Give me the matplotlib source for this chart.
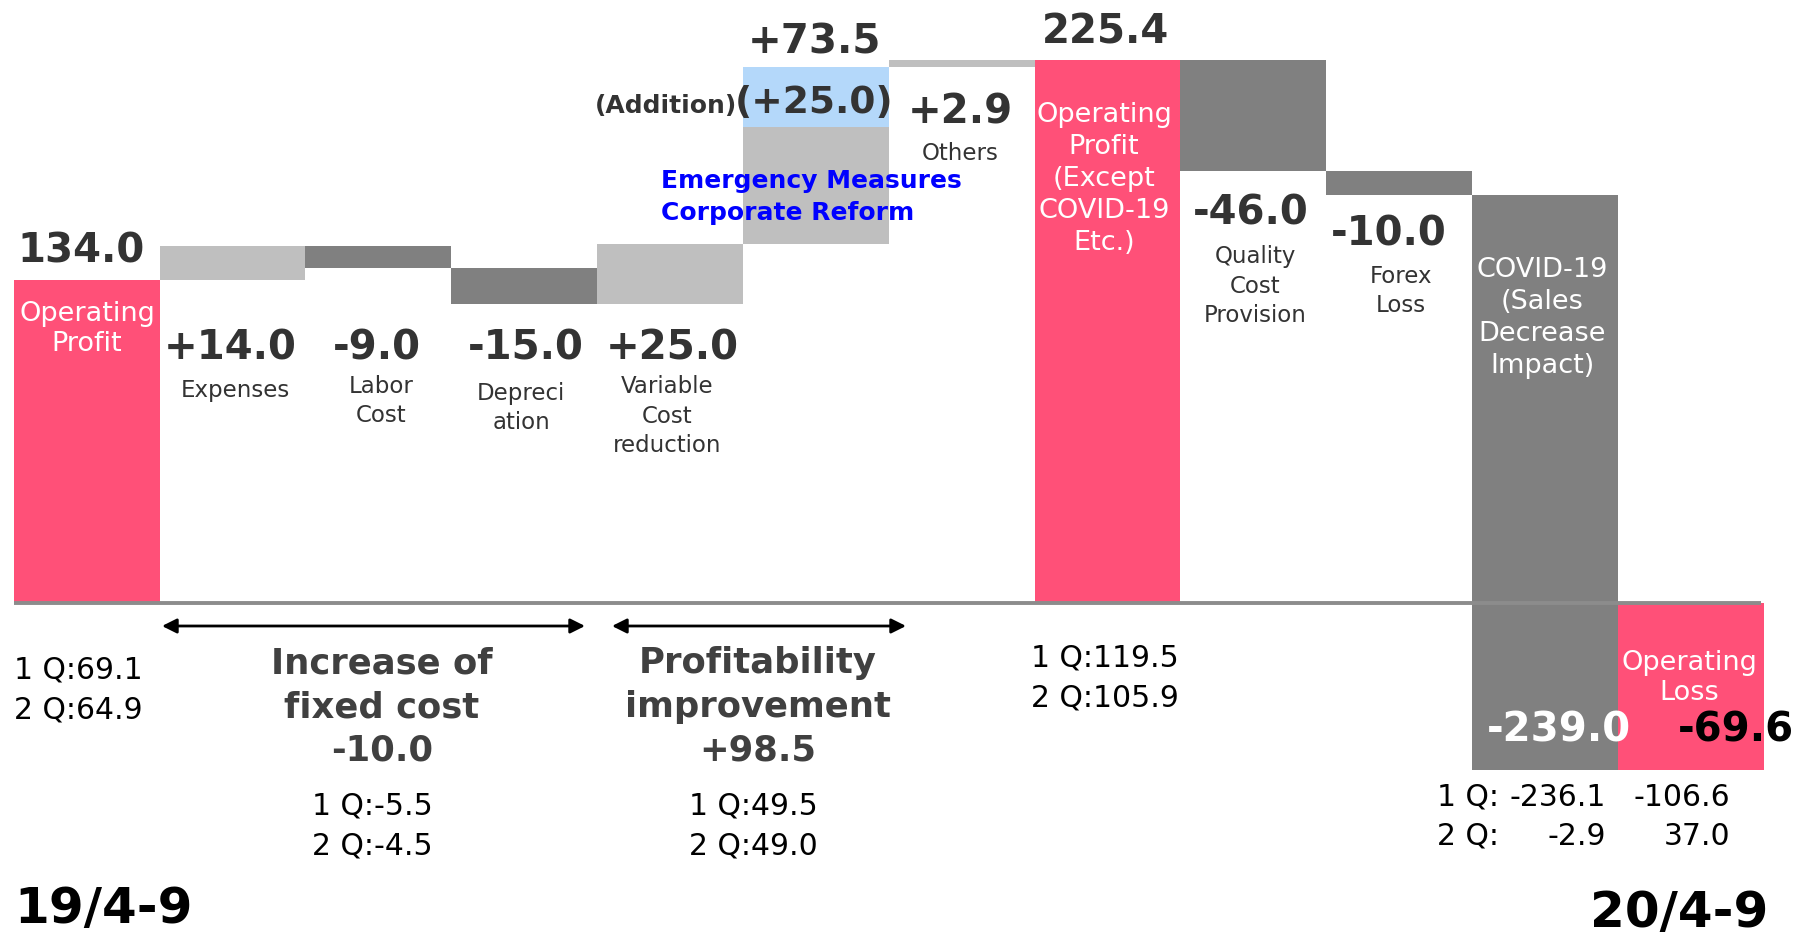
import matplotlib as mpl
import matplotlib.pyplot as plt
import numpy as np

mpl.rcParams['font.family'] = ['DejaVu Sans']

# ---------------- data ----------------
start_value = 134.0
fixed_changes = [14.0, -9.0, -15.0]          # expenses, labor, depreciation
improve_changes = [25.0, 73.5, 2.9]          # variable cost, emergency measures, others
addition = 25.0                              # blue part of the emergency bar
mid_value = 225.4
covid_changes = [-46.0, -10.0, -239.0]       # quality cost, forex, covid
end_value = -69.6

q_start = ['1 Q:69.1', '2 Q:64.9']
q_fixed = ['1 Q:-5.5', '2 Q:-4.5']
q_improve = ['1 Q:49.5', '2 Q:49.0']
q_mid = ['1 Q:119.5', '2 Q:105.9']
q_covid = ['-236.1', '-2.9']
q_end = ['-106.6', '37.0']

PINK = '#ff5078'
LGRAY = '#bfbfbf'
DGRAY = '#808080'
BLUE = '#b4d8fa'
TXT = '#333333'

# ---------------- figure ----------------
fig = plt.figure(figsize=(18, 9.35), dpi=100)
ax = fig.add_axes([0, 0, 1, 1])
ax.set_xlim(-0.095, 12.25)
ax.set_ylim(-137.9, 250.2)
ax.axis('off')

def P(xp, yp):
    # full-size pixel position -> data coords (for free text only)
    x0, x1 = ax.get_xlim()
    y0, y1 = ax.get_ylim()
    return x0 + xp / 1800 * (x1 - x0), y1 - yp / 935 * (y1 - y0)

# build the waterfall
steps = fixed_changes + improve_changes
values, bottoms, colors = [start_value], [0], [PINK]
run = start_value
for v in steps:
    bottoms.append(run if v > 0 else run + v)
    values.append(abs(v))
    colors.append(LGRAY if v > 0 else DGRAY)
    run += v
values.append(mid_value); bottoms.append(0); colors.append(PINK)
run = mid_value
for v in covid_changes:
    bottoms.append(run + v)
    values.append(abs(v))
    colors.append(DGRAY)
    run += v
values.append(end_value); bottoms.append(0); colors.append(PINK)

xs = np.arange(len(values))
ax.bar(xs, values, bottom=bottoms, width=1.0, align='edge', color=colors, linewidth=0)
# blue "addition" part of the emergency bar
em = 5
ax.bar(em, addition, bottom=bottoms[em] + values[em] - addition, width=1.0,
       align='edge', color=BLUE, linewidth=0)

# baseline
ax.plot([0, len(values) - 0.02], [0, 0], color='#8c8c8c', lw=2.8, solid_capstyle='butt')

# ---------------- labels ----------------
BIG = 29
LAB = 16.5
INN = 19.5
LS = 1.38

def t(xp, yp, s, **kw):
    x, y = P(xp, yp)
    kw.setdefault('ha', 'center')
    kw.setdefault('va', 'center')
    ax.text(x, y, s, **kw)

t(81, 251, f'{start_value:.1f}', fontsize=BIG, fontweight='bold', color=TXT)
t(87, 329, 'Operating\nProfit', fontsize=INN, color='white', linespacing=1.24)

for xp, v in zip([230, 377, 526, 672], fixed_changes + improve_changes[:1]):
    t(xp, 348, f'{v:+.1f}', fontsize=BIG, fontweight='bold', color=TXT)

t(235, 391, 'Expenses', fontsize=LAB, color=TXT)
t(381, 401, 'Labor\nCost', fontsize=LAB, color=TXT, linespacing=LS)
t(521, 408, 'Depreci\nation', fontsize=LAB, color=TXT, linespacing=LS)
t(667, 416, 'Variable\nCost\nreduction', fontsize=LAB, color=TXT, linespacing=LS)

t(814, 43, f'{improve_changes[1]:+.1f}', fontsize=BIG, fontweight='bold', color=TXT)
t(814, 103, f'({addition:+.1f})', fontsize=27, fontweight='bold', color=TXT)
t(737, 106, '(Addition)', fontsize=18, fontweight='bold', color=TXT, ha='right')
t(661, 197, 'Emergency Measures\nCorporate Reform', fontsize=18, fontweight='bold',
  color='#0000ff', ha='left', linespacing=1.4)

t(960, 112, f'{improve_changes[2]:+.1f}', fontsize=BIG, fontweight='bold', color=TXT)
t(960, 153, 'Others', fontsize=LAB, color=TXT)

t(1105, 33, f'{mid_value:.1f}', fontsize=BIG, fontweight='bold', color=TXT)
t(1104, 179, 'Operating\nProfit\n(Except\nCOVID-19\nEtc.)', fontsize=INN,
  color='white', linespacing=1.29)

t(1251, 213, f'{covid_changes[0]:.1f}', fontsize=BIG, fontweight='bold', color=TXT)
t(1255, 286, 'Quality\nCost\nProvision', fontsize=LAB, color=TXT, linespacing=LS)
t(1389, 234, f'{covid_changes[1]:.1f}', fontsize=BIG, fontweight='bold', color=TXT)
t(1401, 291, 'Forex\nLoss', fontsize=LAB, color=TXT, linespacing=LS)

t(1542, 318, 'COVID-19\n(Sales\nDecrease\nImpact)', fontsize=INN, color='white',
  linespacing=1.29)
t(1689, 678, 'Operating\nLoss', fontsize=INN, color='white', linespacing=1.24)
t(1559, 730, f'{covid_changes[2]:.1f}', fontsize=BIG, fontweight='bold', color='white')
t(1736, 730, f'{end_value:.1f}', fontsize=BIG, fontweight='bold', color='black')

# ---------------- bottom notes ----------------
QS = 21.5
QLS = 1.46
t(14, 690, '\n'.join(q_start), fontsize=QS, color='black', ha='left', linespacing=QLS)
t(382, 707, 'Increase of\nfixed cost\n%+.1f' % sum(fixed_changes), fontsize=25.5,
  fontweight='bold', color='#404040', linespacing=1.36)
t(372, 826, '\n'.join(q_fixed), fontsize=QS, color='black', linespacing=QLS)
t(758, 707, 'Profitability\nimprovement\n%+.1f' % sum(improve_changes[:2]), fontsize=25.5,
  fontweight='bold', color='#404040', linespacing=1.36)
t(753, 826, '\n'.join(q_improve), fontsize=QS, color='black', linespacing=QLS)
t(1031, 678, '\n'.join(q_mid), fontsize=QS, color='black', ha='left', linespacing=QLS)

for yp, qn, a, b in zip([797, 836], ['1 Q:', '2 Q:'], q_covid, q_end):
    t(1437, yp, qn, fontsize=QS, color='black', ha='left')
    t(1606, yp, a, fontsize=QS, color='black', ha='right')
    t(1730, yp, b, fontsize=QS, color='black', ha='right')

t(14, 909, '19/4-9', fontsize=36, fontweight='bold', color='black', ha='left')
t(1768, 913, '20/4-9', fontsize=36, fontweight='bold', color='black', ha='right')

# double arrows
for x0p, x1p in [(162, 585), (612, 906)]:
    ax.annotate('', xy=P(x1p, 626), xytext=P(x0p, 626),
                arrowprops=dict(arrowstyle='<|-|>', color='black', lw=2,
                                mutation_scale=22, shrinkA=0, shrinkB=0))

fig.savefig('out.png', dpi=100, facecolor='white')
